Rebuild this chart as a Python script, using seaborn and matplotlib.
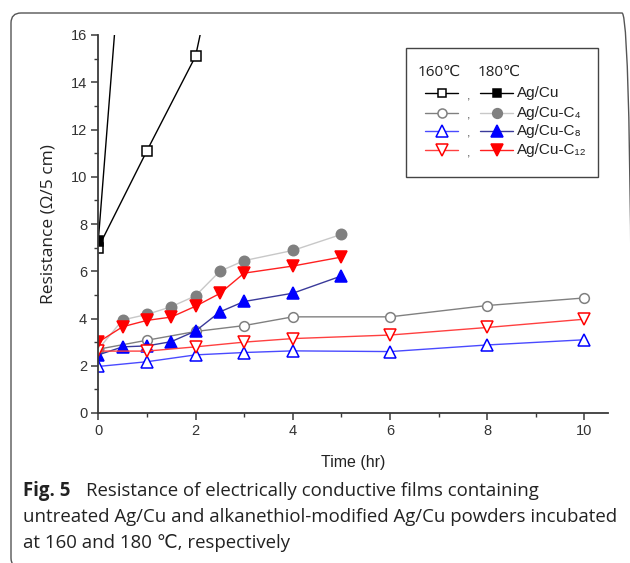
import numpy as np
import pandas as pd
import seaborn as sns
import matplotlib.pyplot as plt
from matplotlib.lines import Line2D
from matplotlib.patches import FancyBboxPatch, Rectangle
import matplotlib.transforms as mtransforms

# data (time in hr, resistance in ohm / 5 cm)
t_agcu_160 = [0, 1, 2, 3]
r_agcu_160 = [7.0, 11.1, 15.1, 24.7]
t_agcu_180 = [0, 0.5]
r_agcu_180 = [7.3, 20.4]

t_c4_160 = [0, 1, 2, 3, 4, 6, 8, 10]
r_c4_160 = [2.7, 3.08, 3.45, 3.7, 4.07, 4.07, 4.55, 4.87]
t_c4_180 = [0, 0.5, 1, 1.5, 2, 2.5, 3, 4, 5]
r_c4_180 = [2.7, 3.94, 4.17, 4.5, 4.96, 6.0, 6.45, 6.88, 7.56]

t_c8_160 = [0, 1, 2, 3, 4, 6, 8, 10]
r_c8_160 = [1.97, 2.17, 2.46, 2.56, 2.63, 2.6, 2.88, 3.1]
t_c8_180 = [0, 0.5, 1, 1.5, 2, 2.5, 3, 4, 5]
r_c8_180 = [2.46, 2.8, 2.84, 3.02, 3.47, 4.28, 4.72, 5.07, 5.8]

t_c12_160 = [0, 1, 2, 3, 4, 6, 8, 10]
r_c12_160 = [2.62, 2.62, 2.8, 3.0, 3.15, 3.3, 3.62, 3.97]
t_c12_180 = [0, 0.5, 1, 1.5, 2, 2.5, 3, 4, 5]
r_c12_180 = [3.0, 3.65, 3.92, 4.06, 4.52, 5.06, 5.92, 6.22, 6.6]

labels = ["Ag/Cu", "Ag/Cu-C\u2084", "Ag/Cu-C\u2088", "Ag/Cu-C\u2081\u2082"]

sns.set_style("ticks")
plt.rcParams["font.family"] = ["Liberation Sans", "DejaVu Sans"]

fig = plt.figure(figsize=(6.3, 5.63), dpi=100)
ax = fig.add_axes([98.3 / 630, 1 - 413 / 563, 510 / 630, 378 / 563])

# style per series: (line color, marker, marker face, marker edge, size)
series = [
    (t_agcu_160, r_agcu_160, "black", "s", "white", "black", 6.5),
    (t_agcu_180, r_agcu_180, "black", "s", "black", "black", 6.5),
    (t_c4_160, r_c4_160, "#808080", "o", "white", "#808080", 7),
    (t_c4_180, r_c4_180, "#c8c8c8", "o", "#808080", "#808080", 7.5),
    (t_c8_160, r_c8_160, "#4a4aff", "^", "white", "#0000ff", 9),
    (t_c8_180, r_c8_180, "#3a3a9a", "^", "#0000ff", "#0000ff", 9),
    (t_c12_160, r_c12_160, "#ff4040", "v", "white", "#ff0000", 9),
    (t_c12_180, r_c12_180, "#ff2020", "v", "#ff0000", "#ff0000", 9),
]

for t, r, lc, mk, mfc, mec, ms in series:
    sns.lineplot(x=t, y=r, ax=ax, color=lc, marker=mk, markerfacecolor=mfc,
                 markeredgecolor=mec, markersize=ms, markeredgewidth=1.1,
                 linewidth=1.0, estimator=None, sort=False)

ax.set_xlim(0, 10.49)
ax.set_ylim(0, 16)
ax.set_xticks(np.arange(0, 11, 2))
ax.set_xticks(np.arange(1, 10, 2), minor=True)
ax.set_yticks(np.arange(0, 17, 2))
ax.set_yticks(np.arange(1, 16, 2), minor=True)
sns.despine(ax=ax)
for s in ["left", "bottom"]:
    ax.spines[s].set_color("#3a3a3a")
    ax.spines[s].set_linewidth(1.3)
ax.tick_params(which="major", length=5, width=1.1, color="#3a3a3a",
               labelsize=10.5, labelcolor="#333333", pad=3)
ax.tick_params(which="minor", length=3, width=1.0, color="#3a3a3a")

ax.set_xlabel("Time (hr)", fontsize=11.5, color="#222222", labelpad=12)
ax.set_ylabel("Resistance (\u03a9/5 cm)", fontsize=12.5, color="#222222",
              family=["Open Sans", "DejaVu Sans"], labelpad=10)


# legend built by hand: two handles per row separated by a comma
def px(x, y):
    return ((x - 98.3) / 510, (413 - y) / 378)


bx0, by0 = px(405.7, 176.7)
bx1, by1 = px(597.7, 48.3)
ax.add_patch(Rectangle((bx0, by0), bx1 - bx0, by1 - by0, transform=ax.transAxes,
                       facecolor="white", edgecolor="#444444", lw=1.0, zorder=5))
for txt, xx in [("160\u2103", 418), ("180\u2103", 477.7)]:
    x, y = px(xx, 72.7)
    ax.text(x, y, txt, transform=ax.transAxes, fontsize=11, va="center",
            ha="left", family=["Open Sans", "DejaVu Sans"], color="#222222", zorder=6)

row_y = [93.3, 112.7, 130.7, 150]
for i, lab in enumerate(labels):
    yy = row_y[i]
    for j, (hx0, hx1) in enumerate([(425, 458.3), (480, 513.3)]):
        t, r, lc, mk, mfc, mec, ms = series[2 * i + j]
        x0, y0 = px(hx0, yy)
        x1, _ = px(hx1, yy)
        ax.add_line(Line2D([x0, x1], [y0, y0], transform=ax.transAxes, color=lc,
                           lw=1.0, zorder=6, clip_on=False))
        ax.add_line(Line2D([(x0 + x1) / 2], [y0], transform=ax.transAxes, marker=mk,
                           markerfacecolor=mfc, markeredgecolor=mec, markersize=ms - 0.5,
                           markeredgewidth=1.1, zorder=7, clip_on=False))
    cx, cy = px(468.3, yy + 3)
    ax.text(cx, cy, ",", transform=ax.transAxes, fontsize=9, ha="center",
            va="center", color="#555555", zorder=6)
    lx, ly = px(517.3, yy)
    ax.text(lx, ly, lab, transform=ax.transAxes, fontsize=11, ha="left",
            va="center", color="#222222", zorder=6)

# caption
cap = dict(fontsize=13.4, color="#222222", family=["Open Sans", "DejaVu Sans"],
           va="center", ha="left")
fig.text(23 / 630, 1 - 491 / 563, "Fig. 5", weight="bold", **cap)
fig.text(86 / 630, 1 - 491 / 563, "Resistance of electrically conductive films containing", **cap)
fig.text(23 / 630, 1 - 517 / 563,
         "untreated Ag/Cu and alkanethiol-modified Ag/Cu powders incubated", **cap)
fig.text(23 / 630, 1 - 543 / 563, "at 160 and 180 \u2103, respectively", **cap)

# rounded page frame
frame = FancyBboxPatch((11, 563 - 568), 621, 555, boxstyle="round,pad=0,rounding_size=10",
                       transform=mtransforms.IdentityTransform(), facecolor="none",
                       edgecolor="#555555", lw=1.0)
fig.patches.append(frame)

fig.savefig("out.png", dpi=100)
